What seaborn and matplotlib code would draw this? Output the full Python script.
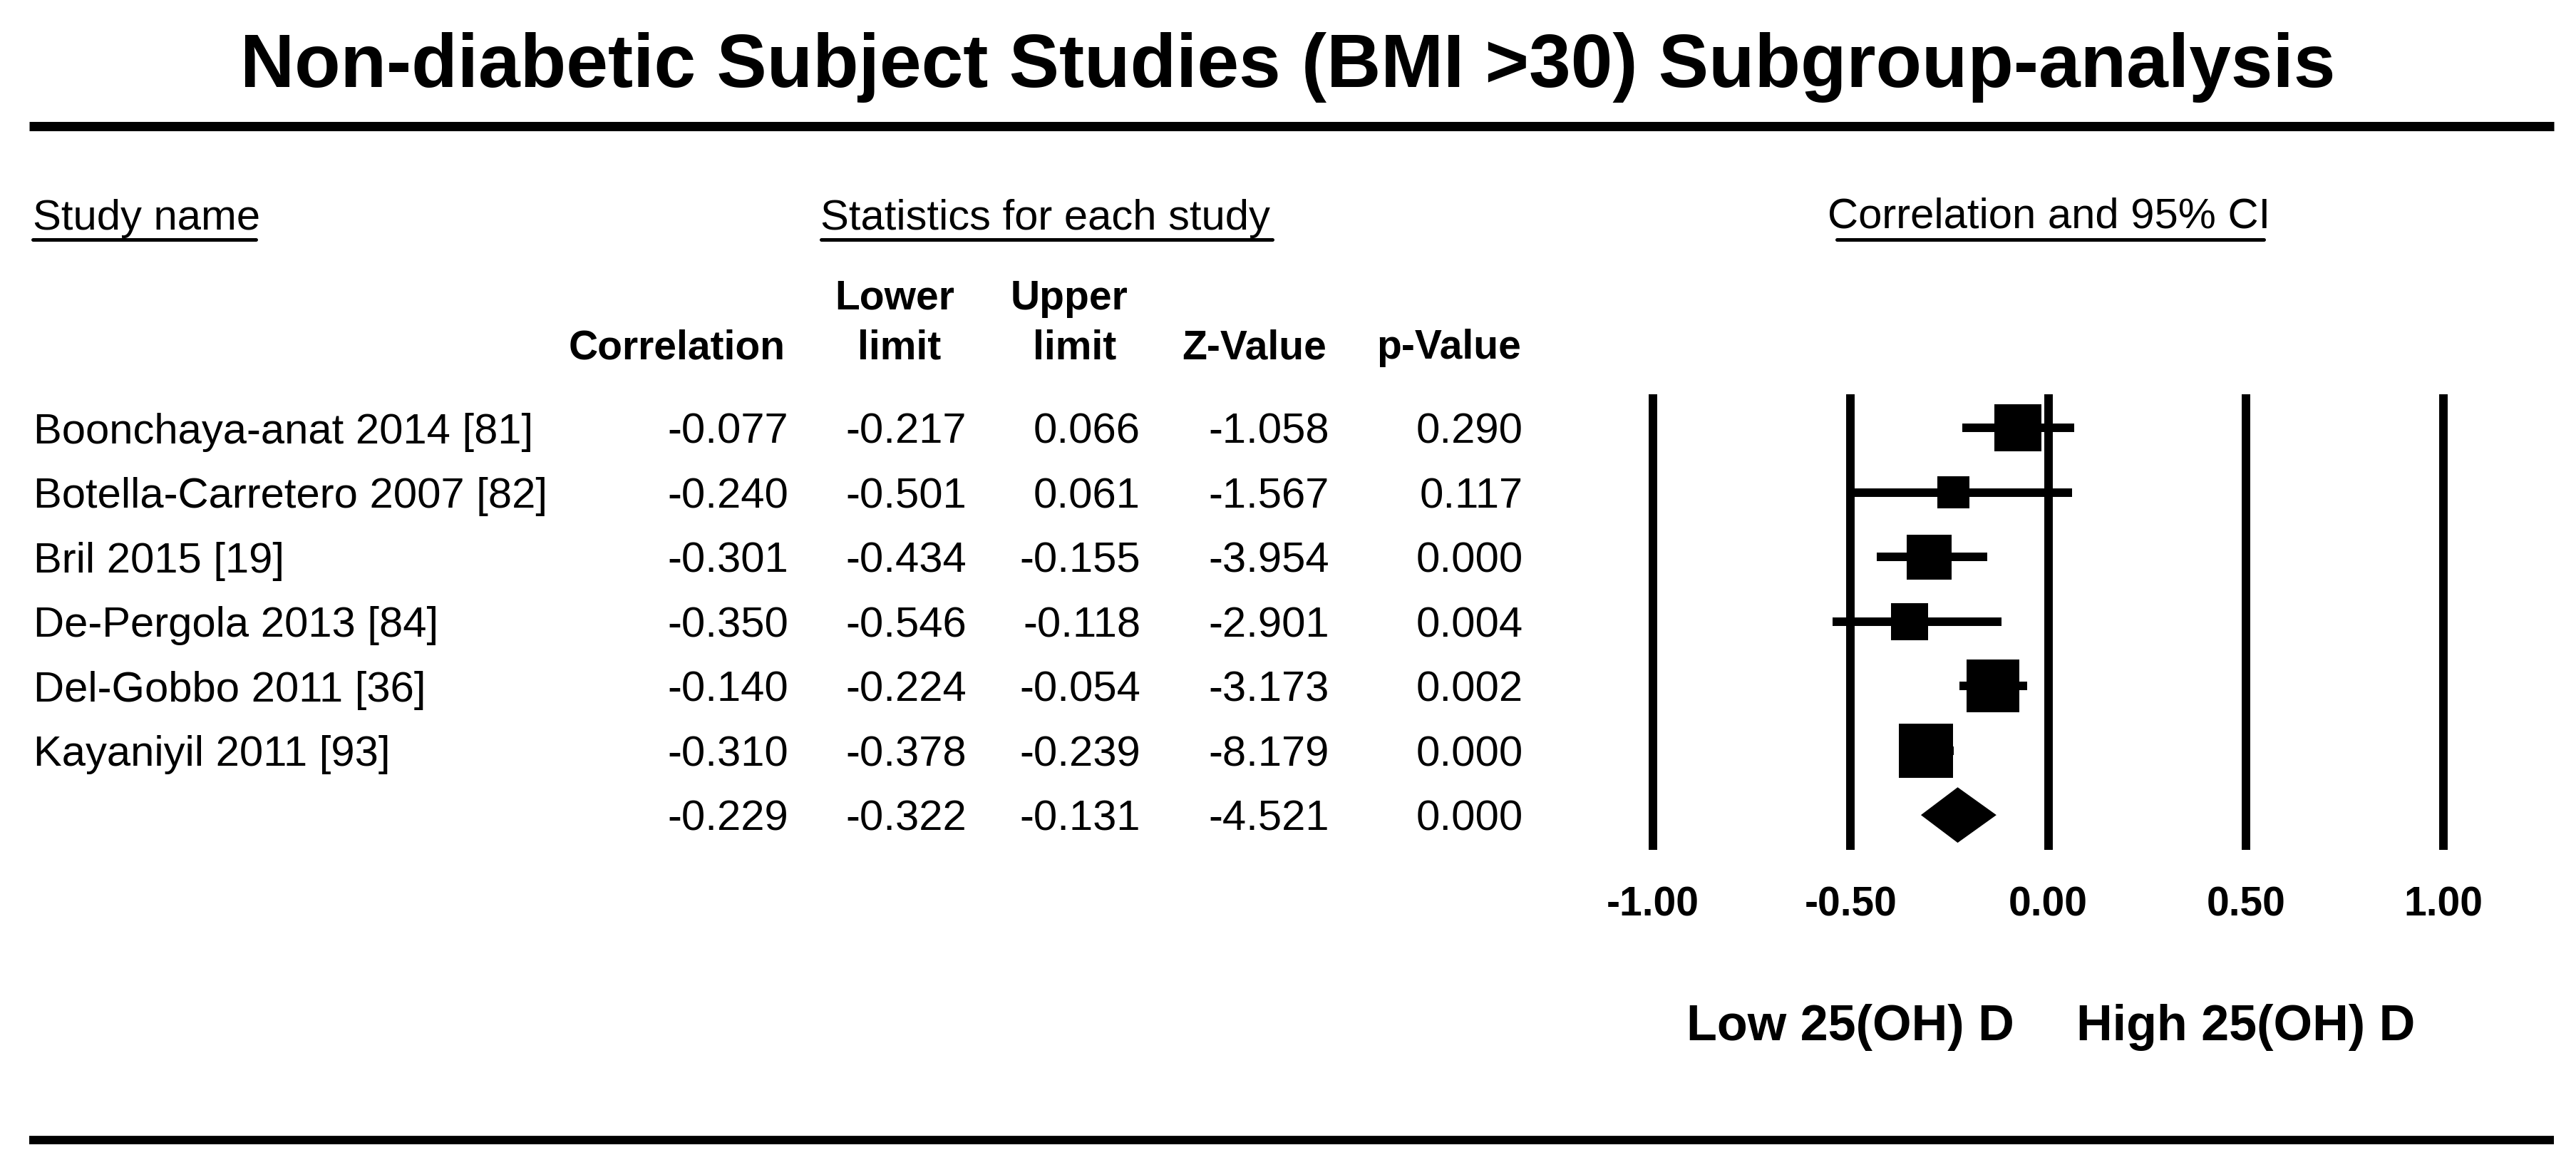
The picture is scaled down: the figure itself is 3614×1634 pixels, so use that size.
import matplotlib
matplotlib.use("Agg")
import matplotlib.pyplot as plt
from matplotlib import transforms
from matplotlib.lines import Line2D
import seaborn as sns
import pandas as pd

# study data
studies = ["Boonchaya-anat 2014 [81]", "Botella-Carretero 2007 [82]", "Bril 2015 [19]",
           "De-Pergola 2013 [84]", "Del-Gobbo 2011 [36]", "Kayaniyil 2011 [93]"]
corr = [-0.077, -0.240, -0.301, -0.350, -0.140, -0.310]
lower = [-0.217, -0.501, -0.434, -0.546, -0.224, -0.378]
upper = [0.066, 0.061, -0.155, -0.118, -0.054, -0.239]
zval = [-1.058, -1.567, -3.954, -2.901, -3.173, -8.179]
pval = [0.290, 0.117, 0.000, 0.004, 0.002, 0.000]
weight = [17.9, 8.3, 16.3, 11.1, 22.5, 23.8]  # relative weight (%), square area

# pooled estimate
pooled = {"corr": -0.229, "lower": -0.322, "upper": -0.131, "z": -4.521, "p": 0.000}

ticks = [-1.0, -0.5, 0.0, 0.5, 1.0]

df = pd.DataFrame({"study": studies, "corr": corr, "lower": lower, "upper": upper,
                   "z": zval, "p": pval, "weight": weight})
df["row"] = range(len(df))
pooled_row = len(df)

sns.set_theme(style="white")
plt.rcParams["font.family"] = ["Liberation Sans", "DejaVu Sans"]
plt.rcParams["text.color"] = "black"
plt.rcParams["xtick.color"] = "black"
plt.rcParams["xtick.labelcolor"] = "black"

W, H = 3614, 1634
fig = plt.figure(figsize=(W / 100, H / 100), dpi=100)
fig.patch.set_facecolor("white")


def fx(px):
    return px / W


def fy(py):
    return 1 - py / H


# forest plot axes
ax = fig.add_axes([fx(2319), fy(1192), fx(3428) - fx(2319), fy(553) - fy(1192)])
ax.patch.set_alpha(0)
ytop, ybot = -0.52, 6.54

ax.vlines(ticks, ytop, ybot, colors="black", lw=8.6, capstyle="butt", clip_on=False)
ax.hlines(df["row"], df["lower"], df["upper"], colors="black", lw=8.6, capstyle="butt", zorder=2)
k = 125.8
sns.scatterplot(data=df, x="corr", y="row", size="weight",
                sizes=(k * df["weight"].min(), k * df["weight"].max()),
                marker="s", color="black", linewidth=0, legend=False, ax=ax, zorder=3)
dh = 0.43
ax.fill([pooled["lower"], pooled["corr"], pooled["upper"], pooled["corr"]],
        [pooled_row, pooled_row - dh, pooled_row, pooled_row + dh],
        color="black", lw=0, zorder=3)

ax.set_xlim(-1, 1)
ax.set_ylim(ybot, ytop)
ax.set_xticks(ticks)
ax.set_xticklabels([f"{t:.2f}" for t in ticks], fontsize=41, fontweight="bold", color="black")
ax.tick_params(axis="x", length=0, pad=36.7, colors="black")
ax.set_yticks([])
ax.set_xlabel("")
ax.set_ylabel("")
for sp in ax.spines.values():
    sp.set_visible(False)

# favours labels
tlab = transforms.blended_transform_factory(ax.transData, fig.transFigure)
ax.text(-0.5, fy(1459), "Low 25(OH) D", transform=tlab, ha="center", va="baseline",
        fontsize=50.5, fontweight="bold", color="black")
ax.text(0.5, fy(1459), "High 25(OH) D", transform=tlab, ha="center", va="baseline",
        fontsize=50.5, fontweight="bold", color="black")

# title and rules
fig.text(0.5, fy(122), "Non-diabetic Subject Studies (BMI >30) Subgroup-analysis",
         ha="center", va="baseline", fontsize=76, fontweight="bold")
fig.add_artist(Line2D([fx(41), fx(3583)], [fy(176.5)] * 2, lw=9.4, color="black",
                      solid_capstyle="butt"))
fig.add_artist(Line2D([fx(41), fx(3583)], [fy(1598.5)] * 2, lw=8.5, color="black",
                      solid_capstyle="butt"))

# section headers
fig.text(fx(46), fy(322), "Study name", ha="left", va="baseline", fontsize=43)
fig.text(fx(1151), fy(322), "Statistics for each study", ha="left", va="baseline", fontsize=43)
fig.text(fx(2875), fy(320), "Correlation and 95% CI", ha="center", va="baseline", fontsize=43)
for x0, x1 in [(46, 359), (1152, 1785), (2577, 3176)]:
    fig.add_artist(Line2D([fx(x0), fx(x1)], [fy(335.5)] * 2, lw=3.6, color="black",
                          solid_capstyle="round"))

# column headers
col_right = [1106, 1356, 1600, 1865, 2137]
fig.text(fx(950), fy(503), "Correlation", ha="center", va="baseline", fontsize=41, fontweight="bold")
fig.text(fx(1255), fy(434), "Lower", ha="center", va="baseline", fontsize=41, fontweight="bold")
fig.text(fx(1262), fy(503), "limit", ha="center", va="baseline", fontsize=41, fontweight="bold")
fig.text(fx(1500), fy(434), "Upper", ha="center", va="baseline", fontsize=41, fontweight="bold")
fig.text(fx(1508), fy(503), "limit", ha="center", va="baseline", fontsize=41, fontweight="bold")
fig.text(fx(1760), fy(503), "Z-Value", ha="center", va="baseline", fontsize=41, fontweight="bold")
fig.text(fx(2033), fy(503), "p-Value", ha="center", va="baseline", fontsize=41, fontweight="bold")

# table rows, aligned to the forest plot rows
trow = transforms.blended_transform_factory(fig.transFigure, ax.transData)
trow = trow + transforms.ScaledTranslation(0, -21.5 / 100, fig.dpi_scale_trans)
for _, r in df.iterrows():
    fig.text(fx(47), r["row"], r["study"], transform=trow, ha="left", va="baseline", fontsize=43)
    for xr, v in zip(col_right, [r["corr"], r["lower"], r["upper"], r["z"], r["p"]]):
        fig.text(fx(xr), r["row"], f"{v:.3f}", transform=trow, ha="right", va="baseline", fontsize=43)
for xr, key in zip(col_right, ["corr", "lower", "upper", "z", "p"]):
    fig.text(fx(xr), pooled_row, f"{pooled[key]:.3f}", transform=trow, ha="right",
             va="baseline", fontsize=43)

fig.savefig("out.png", dpi=100)
